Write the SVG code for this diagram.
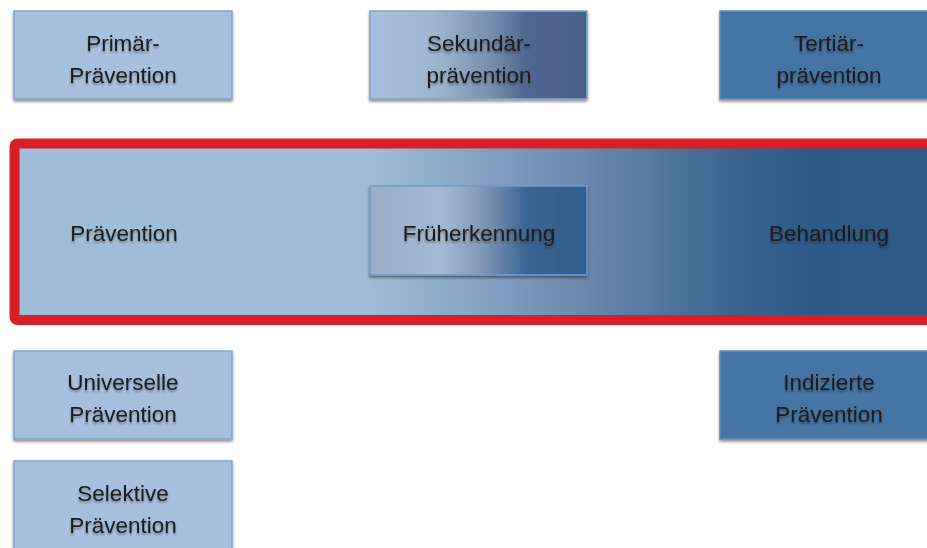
<svg xmlns="http://www.w3.org/2000/svg" width="927" height="548" viewBox="0 0 927 548">
<defs>
<style>
.lbl{font-family:"Liberation Sans","Open Sans",Arial,sans-serif;font-size:22.5px;fill:#1c1c1c;text-anchor:middle;filter:url(#ts)}
.light{fill:#a7c0df;stroke:#7fa5cf;stroke-width:1.5;filter:url(#bs)}
.dark{fill:#4574a3;stroke:#5f8fbf;stroke-width:1.5;filter:url(#bs)}
</style>
<filter id="bs" x="-10%" y="-10%" width="120%" height="130%">
<feGaussianBlur in="SourceAlpha" stdDeviation="1.5"/>
<feOffset dx="0" dy="2" result="b"/>
<feComponentTransfer><feFuncA type="linear" slope="0.45"/></feComponentTransfer>
<feMerge><feMergeNode/><feMergeNode in="SourceGraphic"/></feMerge>
</filter>
<filter id="ts" x="-10%" y="-20%" width="120%" height="150%">
<feGaussianBlur in="SourceAlpha" stdDeviation="1"/>
<feOffset dx="0" dy="1.5"/>
<feComponentTransfer><feFuncA type="linear" slope="0.35"/></feComponentTransfer>
<feMerge><feMergeNode/><feMergeNode in="SourceGraphic"/></feMerge>
</filter>
<linearGradient id="gSek" x1="0" y1="0" x2="1" y2="0">
<stop offset="0" stop-color="#a9bfdc"/>
<stop offset="0.3" stop-color="#9fb6d2"/>
<stop offset="0.55" stop-color="#7890b0"/>
<stop offset="0.72" stop-color="#4f6790"/>
<stop offset="1" stop-color="#4b6189"/>
</linearGradient>
<linearGradient id="gBand" gradientUnits="userSpaceOnUse" x1="19" y1="0" x2="927" y2="0">
<stop offset="0" stop-color="#9fbdd8"/>
<stop offset="0.385" stop-color="#9fbdd8"/>
<stop offset="0.5" stop-color="#86a5c5"/>
<stop offset="0.65" stop-color="#6283a8"/>
<stop offset="0.78" stop-color="#3d6690"/>
<stop offset="0.87" stop-color="#2c5a87"/>
<stop offset="1" stop-color="#2f5a86"/>
</linearGradient>
<linearGradient id="gFrueh" x1="0" y1="0" x2="1" y2="0">
<stop offset="0" stop-color="#97adca"/>
<stop offset="0.33" stop-color="#a3b9d4"/>
<stop offset="0.52" stop-color="#7f98b7"/>
<stop offset="0.72" stop-color="#3b6590"/>
<stop offset="1" stop-color="#305e8c"/>
</linearGradient>
</defs>

<g id="band">
<rect x="14.5" y="143.5" width="930" height="176.5" rx="3" fill="url(#gBand)" stroke="#d71f27" stroke-width="10"/>
<text class="lbl" x="124" y="241">Prävention</text>
<text class="lbl" x="829" y="241">Behandlung</text>
</g>

<g id="primaer">
<rect class="light" x="14" y="11" width="218" height="88"/>
<text class="lbl" x="123" y="51">Primär-</text>
<text class="lbl" x="123" y="83">Prävention</text>
</g>

<g id="sekundaer">
<rect x="370" y="11" width="217" height="88" fill="url(#gSek)" stroke="#7fa5cf" stroke-width="1.5" filter="url(#bs)"/>
<text class="lbl" x="479" y="51">Sekundär-</text>
<text class="lbl" x="479" y="83">prävention</text>
</g>

<g id="tertiaer">
<rect class="dark" x="720" y="11" width="220" height="88"/>
<text class="lbl" x="829" y="51">Tertiär-</text>
<text class="lbl" x="829" y="83">prävention</text>
</g>

<g id="frueherkennung">
<rect x="370" y="186" width="217" height="89" fill="url(#gFrueh)" stroke="#6f9acb" stroke-width="1.5" filter="url(#bs)"/>
<text class="lbl" x="479" y="241">Früherkennung</text>
</g>

<g id="universelle">
<rect class="light" x="14" y="351" width="218" height="88"/>
<text class="lbl" x="123" y="390">Universelle</text>
<text class="lbl" x="123" y="422">Prävention</text>
</g>

<g id="selektive">
<rect class="light" x="14" y="461" width="218" height="100"/>
<text class="lbl" x="123" y="501">Selektive</text>
<text class="lbl" x="123" y="533">Prävention</text>
</g>

<g id="indizierte">
<rect class="dark" x="720" y="351" width="220" height="88"/>
<text class="lbl" x="829" y="390">Indizierte</text>
<text class="lbl" x="829" y="422">Prävention</text>
</g>

<g id="connectors"></g>
</svg>
